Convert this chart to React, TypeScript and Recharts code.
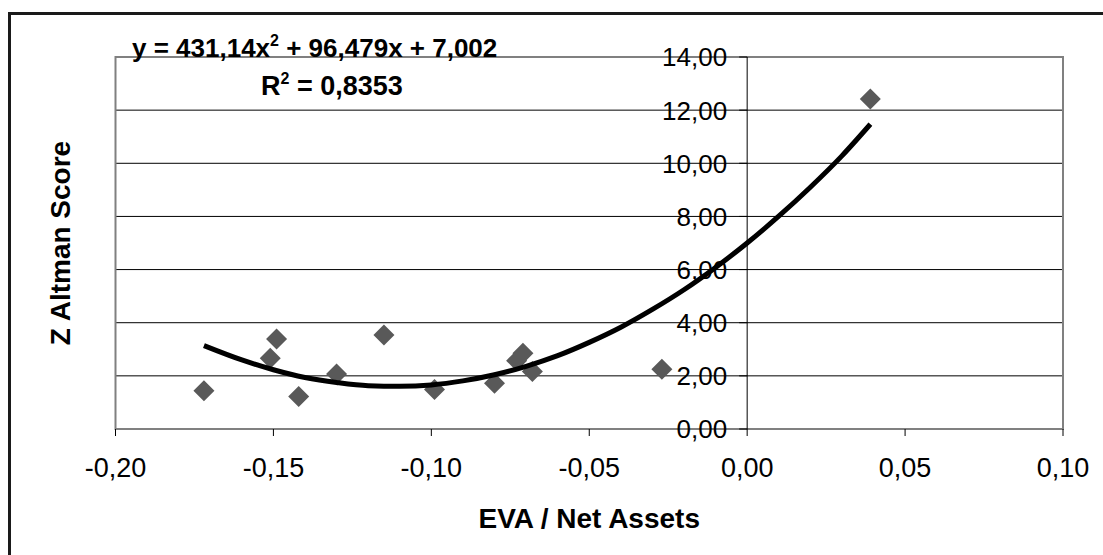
import { ScatterChart, Scatter, XAxis, YAxis, CartesianGrid, ReferenceLine, ReferenceArea } from "recharts";

// EVA / Net Assets vs Z Altman score
const evaNetAssets = [-0.172, -0.149, -0.151, -0.142, -0.13, -0.115, -0.099, -0.08, -0.071, -0.073, -0.068, -0.027, 0.039];
const zAltman = [1.44, 3.39, 2.66, 1.22, 2.07, 3.54, 1.49, 1.72, 2.85, 2.57, 2.16, 2.25, 12.42];

// polynomial trend line
const trendX = [-0.172, -0.16, -0.15, -0.14, -0.13, -0.12, -0.11, -0.1, -0.09, -0.08, -0.07, -0.06, -0.05, -0.04, -0.03, -0.02, -0.01, 0, 0.01, 0.02, 0.03, 0.039];
const trendY = [3.14, 2.6, 2.23, 1.94, 1.75, 1.63, 1.61, 1.66, 1.81, 2.04, 2.36, 2.76, 3.26, 3.83, 4.5, 5.24, 6.08, 7.0, 8.01, 9.1, 10.28, 11.47];

const xTicks = [-0.2, -0.15, -0.1, -0.05, 0, 0.05, 0.1];
const yTicks = [0, 2, 4, 6, 8, 10, 12, 14];
const gridValues = [2, 4, 6, 8, 10, 12];

const points = evaNetAssets.map((x, i) => ({ x, y: zAltman[i] }));
const trend = trendX.map((x, i) => ({ x, y: trendY[i] }));

const W = 1103;
const H = 555;
const plotLeft = 115.5;
const plotRight = 1063;
const plotTop = 57;
const plotBottom = 429;
const xMin = -0.2;
const xMax = 0.1;
const zeroX = plotLeft + ((plotRight - plotLeft) * (0 - xMin)) / (xMax - xMin);

const font = "'Liberation Sans', Arial, sans-serif";
const fmt = (v: number) => v.toFixed(2).replace(".", ",");

const Diamond = (props: any) => {
    const { cx, cy } = props;
    const r = 10.5;
    return (
        <polygon
            points={`${cx},${cy - r} ${cx + r},${cy} ${cx},${cy + r} ${cx - r},${cy}`}
            fill="#595959"
        />
    );
};

const YTick = (props: any) => {
    const { y, payload } = props;
    return (
        <g>
            <line x1={zeroX - 8} x2={zeroX} y1={y} y2={y} stroke="#000" />
            <text x={zeroX - 20} y={y} dy="0.36em" textAnchor="end" fontSize={26} fontFamily={font} fill="#000">
                {fmt(payload.value)}
            </text>
        </g>
    );
};

export default function App() {
    return (
        <div style={{ position: "absolute", left: 0, top: 0, width: W, height: H, background: "#fff", overflow: "hidden" }}>
            <div
                style={{
                    position: "absolute",
                    left: 8,
                    top: 12,
                    width: 1110,
                    height: 560,
                    border: "3px solid #1a1a1a",
                    boxSizing: "border-box",
                }}
            />
            <div style={{ position: "absolute", left: 0, top: 0 }}>
                <ScatterChart
                    width={W}
                    height={H}
                    margin={{ top: plotTop, right: W - plotRight, bottom: H - plotBottom - 60, left: plotLeft - 60 }}
                >
                    <CartesianGrid horizontal vertical={false} horizontalValues={gridValues} stroke="#000" strokeOpacity={1} />
                    <XAxis
                        type="number"
                        dataKey="x"
                        domain={[xMin, xMax]}
                        ticks={xTicks}
                        tickFormatter={fmt}
                        height={60}
                        axisLine={false}
                        tickLine={{ stroke: "#000" }}
                        tickSize={7}
                        tickMargin={22}
                        tick={{ fontSize: 27, fontFamily: font, fill: "#000" }}
                        allowDataOverflow
                    />
                    <YAxis
                        type="number"
                        dataKey="y"
                        domain={[0, 14]}
                        ticks={yTicks}
                        width={60}
                        axisLine={false}
                        tickLine={false}
                        tick={<YTick />}
                        allowDataOverflow
                    />
                    <ReferenceArea x1={xMin} x2={xMax} y1={0} y2={14} fill="none" stroke="#808080" strokeWidth={2} ifOverflow="visible" />
                    <ReferenceLine x={0} stroke="#000" strokeWidth={1} />
                    <Scatter data={points} shape={<Diamond />} isAnimationActive={false} />
                    <Scatter
                        data={trend}
                        line={{ stroke: "#000", strokeWidth: 5 }}
                        lineType="joint"
                        lineJointType="monotoneX"
                        shape={() => <g />}
                        isAnimationActive={false}
                    />
                </ScatterChart>
            </div>
            <svg width={W} height={H} style={{ position: "absolute", left: 0, top: 0, pointerEvents: "none" }}>
                <text x={132} y={57} fontSize={26} fontWeight="bold" fontFamily={font} fill="#000">
                    y = 431,14x
                    <tspan dy={-11} fontSize={16}>2</tspan>
                    <tspan dy={11}> + 96,479x + 7,002</tspan>
                </text>
                <text x={332} y={95} textAnchor="middle" fontSize={27} fontWeight="bold" fontFamily={font} fill="#000">
                    R<tspan dy={-11} fontSize={16}>2</tspan>
                    <tspan dy={11}> = 0,8353</tspan>
                </text>
                <text
                    x={60}
                    y={(plotTop + plotBottom) / 2}
                    transform={`rotate(-90, 60, ${(plotTop + plotBottom) / 2})`}
                    textAnchor="middle"
                    dy="0.36em"
                    fontSize={28}
                    fontWeight="bold"
                    fontFamily={font}
                    fill="#000"
                >
                    Z Altman Score
                </text>
                <text x={(plotLeft + plotRight) / 2} y={528} textAnchor="middle" fontSize={28} fontWeight="bold" fontFamily={font} fill="#000">
                    EVA / Net Assets
                </text>
            </svg>
        </div>
    );
}
